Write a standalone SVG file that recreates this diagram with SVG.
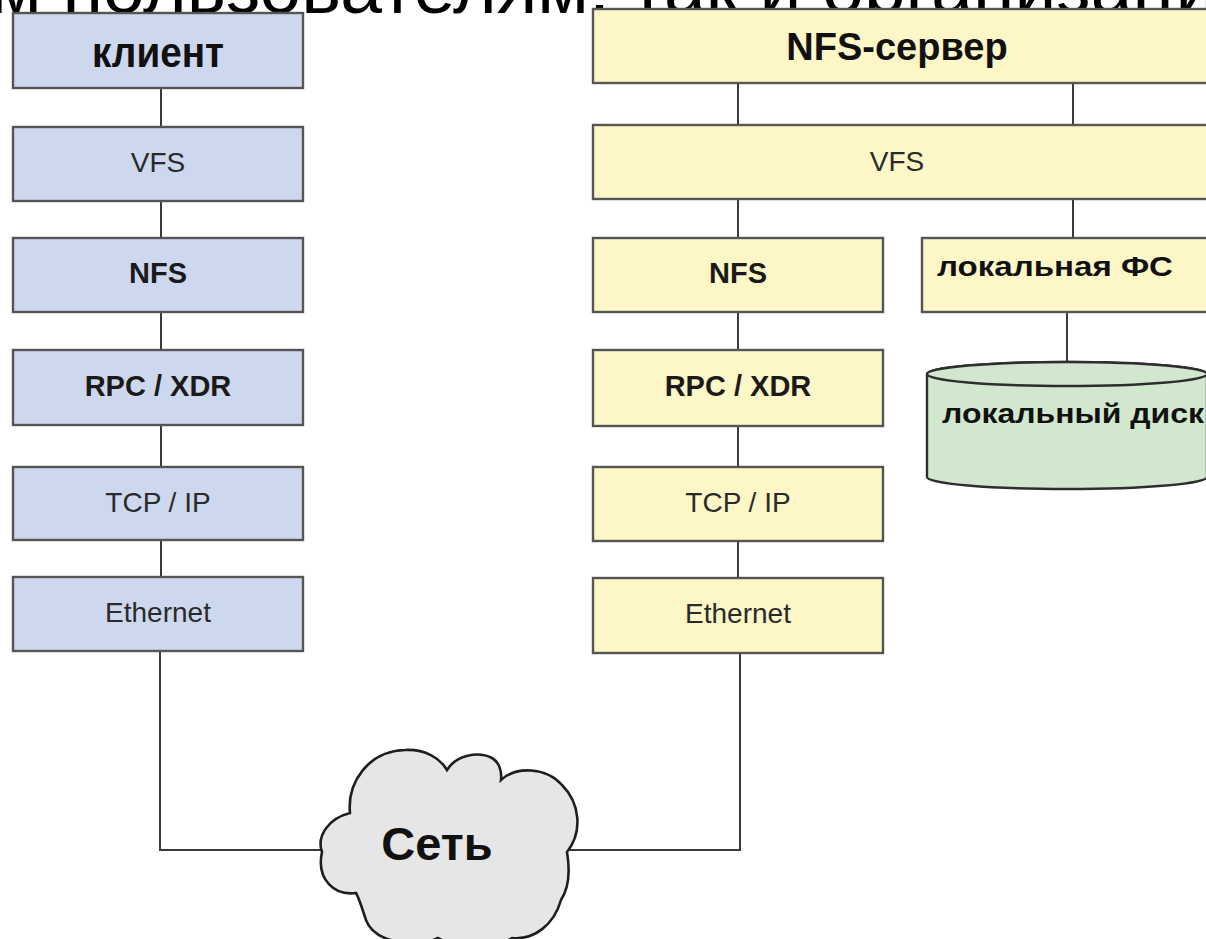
<svg xmlns="http://www.w3.org/2000/svg" width="1206" height="939" viewBox="0 0 1206 939">
  <style>
    .bg { fill: #ffffff; }
    .heading { font-family: "Liberation Sans", Arial, sans-serif; font-size: 75px; fill: #000000; }
    .wire { fill: none; stroke: #3a3a3a; stroke-width: 2; }
    .cl { fill: #cdd8ee; stroke: #555555; stroke-width: 2.4; }
    .sv { fill: #fdf7c8; stroke: #555555; stroke-width: 2.4; }
    .disk { fill: #d2e8ce; stroke: #2e2e2e; stroke-width: 2.4; }
    .cloud { fill: #e6e6e6; stroke: #1e1e1e; stroke-width: 2.6; }
    .lbl { font-family: "Liberation Sans", Arial, sans-serif; font-size: 28px; fill: #2a2a2a; text-anchor: middle; }
    .lblb { font-family: "Liberation Sans", Arial, sans-serif; font-size: 29px; font-weight: bold; fill: #1a1a1a; text-anchor: middle; }
    .title { font-family: "Liberation Sans", Arial, sans-serif; font-weight: bold; fill: #111111; text-anchor: middle; }
    .wide { font-family: "Liberation Sans", Arial, sans-serif; font-size: 27px; font-weight: bold; fill: #111111; }
  </style>

  <rect class="bg" x="0" y="0" width="1206" height="939"/>

  <!-- slide caption running above the diagram -->
  <text class="heading" x="-10" y="13">м пользователям, так и организациям</text>

  <!-- connectors -->
  <g id="connectors">
    <!-- client stack -->
    <line class="wire" x1="161" y1="88" x2="161" y2="127"/>
    <line class="wire" x1="161" y1="201" x2="161" y2="238"/>
    <line class="wire" x1="161" y1="312" x2="161" y2="350"/>
    <line class="wire" x1="161" y1="425" x2="161" y2="467"/>
    <line class="wire" x1="161" y1="540" x2="161" y2="577"/>
    <polyline class="wire" points="160,651 160,850 330,850"/>
    <!-- server stack -->
    <line class="wire" x1="738" y1="83" x2="738" y2="125"/>
    <line class="wire" x1="1073" y1="83" x2="1073" y2="125"/>
    <line class="wire" x1="738" y1="199" x2="738" y2="238"/>
    <line class="wire" x1="1073" y1="199" x2="1073" y2="238"/>
    <line class="wire" x1="738" y1="312" x2="738" y2="350"/>
    <line class="wire" x1="1067" y1="312" x2="1067" y2="362"/>
    <line class="wire" x1="738" y1="426" x2="738" y2="467"/>
    <line class="wire" x1="738" y1="541" x2="738" y2="578"/>
    <polyline class="wire" points="560,850 740,850 740,653"/>
  </g>

  <!-- client side -->
  <g id="client">
    <rect class="cl" x="13" y="13" width="290" height="75"/>
    <text class="title" x="158" y="67" font-size="42" textLength="132" lengthAdjust="spacingAndGlyphs">клиент</text>
  </g>
  <g id="client-vfs">
    <rect class="cl" x="13" y="127" width="290" height="74"/>
    <text class="lbl" x="158" y="172">VFS</text>
  </g>
  <g id="client-nfs">
    <rect class="cl" x="13" y="238" width="290" height="74"/>
    <text class="lblb" x="158" y="283">NFS</text>
  </g>
  <g id="client-rpc">
    <rect class="cl" x="13" y="350" width="290" height="75"/>
    <text class="lblb" x="158" y="396">RPC / XDR</text>
  </g>
  <g id="client-tcp">
    <rect class="cl" x="13" y="467" width="290" height="73"/>
    <text class="lbl" x="158" y="512">TCP / IP</text>
  </g>
  <g id="client-eth">
    <rect class="cl" x="13" y="577" width="290" height="74"/>
    <text class="lbl" x="158" y="622">Ethernet</text>
  </g>

  <!-- server side -->
  <g id="server">
    <rect class="sv" x="593" y="9" width="630" height="74"/>
    <text class="title" x="897" y="60" font-size="38">NFS-сервер</text>
  </g>
  <g id="server-vfs">
    <rect class="sv" x="593" y="125" width="630" height="74"/>
    <text class="lbl" x="897" y="171">VFS</text>
  </g>
  <g id="server-nfs">
    <rect class="sv" x="593" y="238" width="290" height="74"/>
    <text class="lblb" x="738" y="283">NFS</text>
  </g>
  <g id="local-fs">
    <rect class="sv" x="922" y="238" width="300" height="74"/>
    <text class="wide" x="937" y="276" textLength="236" lengthAdjust="spacingAndGlyphs">локальная ФС</text>
  </g>
  <g id="server-rpc">
    <rect class="sv" x="593" y="350" width="290" height="76"/>
    <text class="lblb" x="738" y="396">RPC / XDR</text>
  </g>
  <g id="server-tcp">
    <rect class="sv" x="593" y="467" width="290" height="74"/>
    <text class="lbl" x="738" y="512">TCP / IP</text>
  </g>
  <g id="server-eth">
    <rect class="sv" x="593" y="578" width="290" height="75"/>
    <text class="lbl" x="738" y="623">Ethernet</text>
  </g>

  <!-- local disk drawn as a cylinder -->
  <g id="local-disk">
    <path class="disk" d="M927,374 L927,477 A140,12 0 0 0 1207,477 L1207,374 A140,12 0 0 0 927,374 Z"/>
    <ellipse class="disk" cx="1067" cy="374" rx="140" ry="12"/>
    <text class="wide" x="942" y="423" textLength="262" lengthAdjust="spacingAndGlyphs">локальный диск</text>
  </g>

  <!-- network cloud -->
  <g id="network">
    <path class="cloud" d="M322,852
      C316,835 330,818 350,813
      C347,783 368,751 405,750
      C425,749 440,758 447,770
      C456,755 478,751 492,758
      C499,762 502,771 501,780
      C516,766 546,767 562,785
      C580,803 583,832 567,852
      C570,870 569,888 561,900
      C554,925 534,940 512,938
      C495,948 455,948 438,938
      C418,948 375,944 366,920
      C362,908 359,898 356,893
      C335,896 316,880 322,852 Z"/>
    <text class="title" x="437" y="860" font-size="47">Сеть</text>
  </g>
</svg>
